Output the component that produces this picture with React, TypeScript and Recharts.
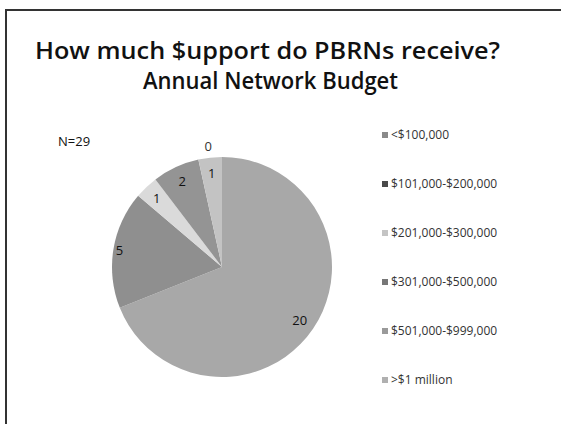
import React from "react";
import { PieChart, Pie, Cell, Legend } from "recharts";

const categories = [
  "<$100,000",
  "$101,000-$200,000",
  "$201,000-$300,000",
  "$301,000-$500,000",
  "$501,000-$999,000",
  ">$1 million",
];
const counts = [20, 5, 1, 2, 0, 1];
const sliceColors = ["#a8a8a8", "#8f8f8f", "#dadada", "#949494", "#bdbdbd", "#c3c3c3"];
const iconColors = ["#8a8a8a", "#4a4a4a", "#c4c4c4", "#777777", "#9a9a9a", "#b0b0b0"];
const titleLines = ["How much $upport do PBRNs receive?", "Annual Network Budget"];
const noteText = "N=29";

const data = categories.map((name, i) => ({ name, value: counts[i] }));
const RAD = Math.PI / 180;

const labelRadius = (outerRadius: number, value: number) => {
  if (value === 0) return outerRadius + 14;
  if (value >= 10) return outerRadius - 16;
  if (value >= 5) return outerRadius - 6;
  return outerRadius - 15;
};

const renderLabel = (props: any) => {
  const { cx, cy, midAngle, outerRadius, value } = props;
  const r = labelRadius(outerRadius, value);
  const x = cx + r * Math.cos(-midAngle * RAD);
  const y = cy + r * Math.sin(-midAngle * RAD);
  return (
    <text
      x={value === 0 ? x + 13 : x}
      y={y}
      textAnchor="middle"
      dominantBaseline="central"
      fontFamily="'Open Sans', sans-serif"
      fontSize={13}
      style={{ fill: value === 0 ? "#333333" : "#111111" }}
      fill={value === 0 ? "#333333" : "#111111"}
      stroke="none"
    >
      {value}
    </text>
  );
};

const renderLegend = () => (
  <div style={{ fontFamily: "'Open Sans', sans-serif", fontSize: 12, color: "#333" }}>
    {categories.map((c, i) => (
      <div key={c} style={{ height: 49, display: "flex", alignItems: "flex-start" }}>
        <span
          style={{
            display: "inline-block",
            width: 6,
            height: 6,
            background: iconColors[i],
            marginTop: 6,
            marginRight: 3,
          }}
        />
        <span style={{ lineHeight: "17px" }}>{c}</span>
      </div>
    ))}
  </div>
);

export default function App() {
  return (
    <div
      style={{
        position: "fixed",
        left: 0,
        top: 0,
        width: 561,
        height: 424,
        background: "#fff",
        overflow: "hidden",
      }}
    >
      <div
        style={{
          position: "absolute",
          left: 5,
          top: 9,
          width: 600,
          height: 500,
          borderLeft: "2px solid #333",
          borderTop: "2px solid #333",
        }}
      />
      <svg width={561} height={160} style={{ position: "absolute", left: 0, top: 0 }}>
        <text
          x={35}
          y={59}
          textLength={465}
          lengthAdjust="spacingAndGlyphs"
          fontFamily="'Open Sans', sans-serif"
          fontWeight={600}
          fontSize={23}
          fill="#111"
        >
          {titleLines[0]}
        </text>
        <text
          x={143}
          y={89}
          textLength={255}
          lengthAdjust="spacingAndGlyphs"
          fontFamily="'Open Sans', sans-serif"
          fontWeight={600}
          fontSize={23}
          fill="#111"
        >
          {titleLines[1]}
        </text>
        <text x={58} y={146} fontFamily="'Open Sans', sans-serif" fontSize={13} fill="#111">
          {noteText}
        </text>
      </svg>
      <div style={{ position: "absolute", left: 0, top: 0 }}>
        <PieChart width={561} height={424}>
          <Pie
            data={data}
            dataKey="value"
            nameKey="name"
            cx={217}
            cy={262}
            outerRadius={110}
            startAngle={90}
            endAngle={-270}
            stroke="none"
            label={renderLabel}
            labelLine={false}
            isAnimationActive={false}
          >
            {data.map((d, i) => (
              <Cell key={d.name} fill={sliceColors[i]} />
            ))}
          </Pie>
          <Legend
            content={renderLegend}
            wrapperStyle={{ position: "absolute", left: 382, top: 126, width: 179 }}
          />
        </PieChart>
      </div>
    </div>
  );
}
